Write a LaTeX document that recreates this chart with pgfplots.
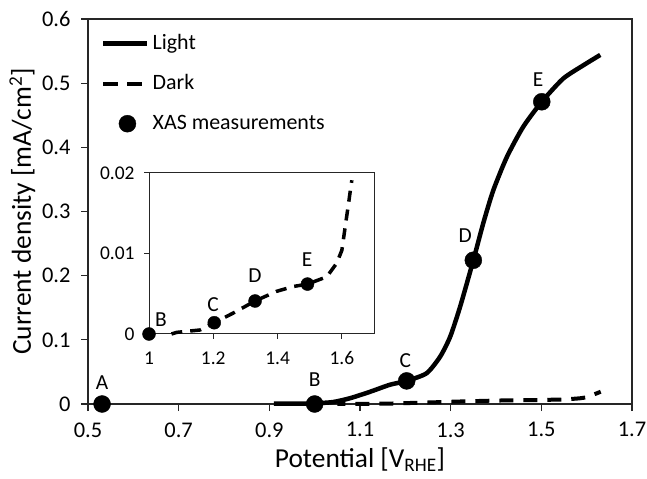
\documentclass[border=0pt]{standalone}
\usepackage{fontspec}
\setmainfont{Carlito}
\usepackage{pgfplots}
\pgfplotsset{compat=1.18}
\pgfplotsset{
  lineleg/.style={legend image code/.code={\draw[##1] (0bp,0bp) -- (44bp,0bp);}},
  darkleg/.style={legend image code/.code={\draw[##1, dash pattern=on 15bp off 9bp, dash phase=0bp] (0bp,0bp) -- (44bp,0bp);}},
  markleg/.style={legend image code/.code={\draw[##1, mark repeat=2, mark phase=2] plot coordinates {(0bp,0bp) (24bp,0bp) (44bp,0bp)};}},
}
\begin{document}
\begin{tikzpicture}
\begin{axis}[
  at={(88bp,75bp)}, anchor=south west,
  scale only axis, width=544bp, height=385bp,
  xmin=0.5, xmax=1.7, ymin=0, ymax=0.6,
  clip=false,
  xtick={0.5,0.7,0.9,1.1,1.3,1.5,1.7},
  xticklabels={0.5,0.7,0.9,1.1,1.3,1.5,1.7},
  ytick={0,0.1,0.2,0.3,0.4,0.5,0.6},
  yticklabels={0,0.1,0.2,0.3,0.4,0.5,0.6},
  tick pos=left, tick align=outside,
  major tick length=7bp,
  axis line style={line width=1.2bp, black!85},
  every tick/.style={line width=1.2bp, black!85},
  /pgf/number format/assume math mode=true,
  ticklabel style={font=\fontsize{22.5}{25}\selectfont},
  xticklabel style={yshift=-8bp},
  yticklabel style={xshift=-7bp},
  xlabel={Potential [V\textsubscript{RHE}]},
  xlabel style={yshift=-4bp},
  ylabel={Current density [mA/cm\textsuperscript{2}]},
  label style={font=\fontsize{27.5}{30}\selectfont},
  legend style={draw=none, fill=none, at={(0,1)}, anchor=north west,
    xshift=10bp, yshift=-12bp, font=\fontsize{22}{26}\selectfont,
    row sep=19bp, column sep=3bp,
    nodes={inner sep=0pt, text height=16bp, text depth=5bp}},
  legend cell align=left,
]
\addplot[line width=4.5bp, smooth, tension=0.4, lineleg]
coordinates {
(0.91,0.0005) (0.96,0.0005) (1.0,0.001) (1.04,0.003) (1.078,0.009)
(1.122,0.019) (1.166,0.030) (1.203,0.036) (1.247,0.048) (1.277,0.074)
(1.299,0.105) (1.321,0.152) (1.35,0.224) (1.372,0.282) (1.394,0.333)
(1.424,0.385) (1.46,0.432) (1.501,0.471) (1.548,0.507) (1.593,0.528)
(1.63,0.544)
};
\addlegendentry{Light}
\addplot[line width=4bp, dash pattern=on 14bp off 10bp, dash phase=6bp, darkleg]
coordinates {
(1.05,0.0) (1.086,0.0002) (1.159,0.0005) (1.203,0.0014) (1.262,0.0026)
(1.330,0.0041) (1.397,0.0053) (1.449,0.0059) (1.493,0.0062) (1.553,0.0071)
(1.584,0.0088) (1.600,0.0104) (1.615,0.0146) (1.631,0.0191)
};
\addlegendentry{Dark}
\addplot[only marks, mark=*, mark size=8.5bp, black, markleg]
coordinates {
(0.531,0) (1.0,0) (1.203,0.036) (1.35,0.224) (1.501,0.471)
};
\addlegendentry{XAS measurements}
\node[font=\fontsize{21.5}{24}\selectfont] at (axis cs:0.531,0.034) {A};
\node[font=\fontsize{21.5}{24}\selectfont] at (axis cs:1.0,0.038) {B};
\node[font=\fontsize{21.5}{24}\selectfont] at (axis cs:1.2,0.068) {C};
\node[font=\fontsize{21.5}{24}\selectfont] at (axis cs:1.332,0.263) {D};
\node[font=\fontsize{21.5}{24}\selectfont] at (axis cs:1.493,0.506) {E};
\end{axis}
\begin{axis}[
  at={(149bp,145bp)}, anchor=south west,
  scale only axis, width=225bp, height=161bp,
  xmin=1, xmax=1.7, ymin=0, ymax=0.02,
  clip=false,
  axis background/.style={fill=white},
  xtick={1,1.2,1.4,1.6}, xticklabels={1,1.2,1.4,1.6},
  ytick={0,0.01,0.02}, yticklabels={0,0.01,0.02},
  scaled y ticks=false,
  tick pos=left, tick align=outside,
  major tick length=5bp,
  axis line style={line width=1bp, black!85},
  every tick/.style={line width=1bp, black!85},
  /pgf/number format/assume math mode=true,
  ticklabel style={font=\fontsize{19.5}{22}\selectfont},
  xticklabel style={yshift=-9bp},
  yticklabel style={xshift=-6bp},
]
\addplot[line width=3.5bp, dash pattern=on 11bp off 8bp]
coordinates {
(1.07,0.0) (1.086,0.0002) (1.159,0.0005) (1.203,0.0014) (1.262,0.0026)
(1.330,0.0041) (1.397,0.0053) (1.449,0.0059) (1.493,0.0062) (1.553,0.0071)
(1.584,0.0088) (1.600,0.0104) (1.615,0.0146) (1.631,0.0191)
};
\addplot[only marks, mark=*, mark size=6.5bp, black]
coordinates {
(1.0,0) (1.203,0.0014) (1.330,0.0041) (1.493,0.0062)
};
\node[font=\fontsize{21.5}{24}\selectfont] at (axis cs:1.037,0.00174) {B};
\node[font=\fontsize{21.5}{24}\selectfont] at (axis cs:1.199,0.0037) {C};
\node[font=\fontsize{21.5}{24}\selectfont] at (axis cs:1.330,0.0073) {D};
\node[font=\fontsize{21.5}{24}\selectfont] at (axis cs:1.492,0.0092) {E};
\end{axis}
\pgfresetboundingbox
\useasboundingbox (0,0) rectangle (647bp,479bp);
\end{tikzpicture}
\end{document}
